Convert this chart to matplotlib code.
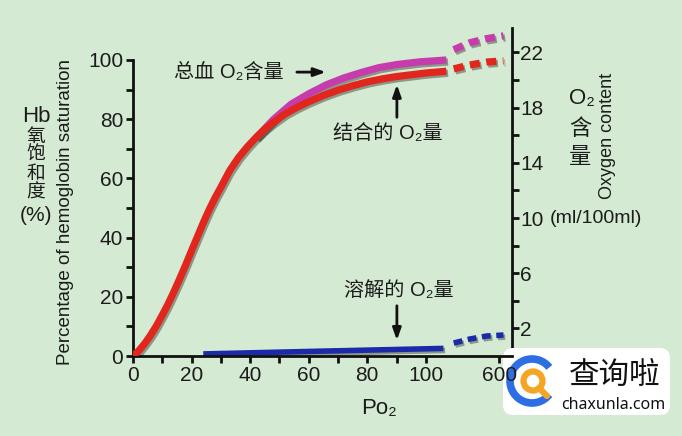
import matplotlib.pyplot as plt
import matplotlib.patheffects as pe
from matplotlib.patches import FancyBboxPatch, Arc, Circle

plt.rcParams['font.family'] = ['Liberation Sans', 'Noto Sans CJK SC', 'DejaVu Sans']

# x positions along the drawn axis (Po2, mmHg up to ~107, then compressed up to 600)
po2_bound = [0, 2, 4, 6, 8, 10, 12, 14, 16, 18, 20, 22, 24, 26, 28, 30, 33, 36, 39, 42, 45,
             48, 52, 56, 60, 65, 70, 75, 80, 85, 90, 95, 100, 107]
sat_bound = [0, 1.8, 4.2, 7, 10.2, 13.8, 17.6, 21.8, 26.2, 30.8, 35.6, 40.3, 45, 49.4, 53.4,
             57, 62.6, 67, 70.6, 73.8, 76.6, 79, 81.8, 84, 85.9, 88, 89.8, 91.3, 92.6, 93.6,
             94.4, 95, 95.6, 96.2]
pos_dash = [109.5, 115, 120.8, 126.5]
sat_bound_dash = [97.0, 98.3, 99.3, 99.7]

po2_total = [42, 48, 54, 60, 66, 72, 78, 84, 90, 98, 107]
ml_total = [15.8, 17.15, 18.25, 19.0, 19.65, 20.15, 20.55, 20.9, 21.12, 21.32, 21.45]
ml_total_dash = [22.2, 22.7, 23.0, 23.2]

po2_dissolved = [24, 60, 106]
ml_dissolved = [0.15, 0.33, 0.55]
ml_dissolved_dash = [0.94, 1.23, 1.45, 1.52]

xticks = [0, 20, 40, 60, 80, 100, 125]
xticklabels = ['0', '20', '40', '60', '80', '100', '600']
left_ticks = [0, 20, 40, 60, 80, 100]
right_ticks = [2, 6, 10, 14, 18, 22]

bg = '#d5ead2'
txt = '#1c1c1c'
red = '#e1261e'
magenta = '#c63cac'
blue = '#1a2aa8'

fig = plt.figure(figsize=(6.82, 4.36), dpi=100, facecolor=bg)
ax = fig.add_axes([133/682, 80/436, 379/682, 328/436])
ax.set_facecolor('none')
ax2 = ax.twinx()
ax2.set_facecolor('none')

ax.set_xlim(0, 129.4)
ax.set_ylim(0, 110.8)
ax2.set_ylim(0, 23.77)

shadow = [pe.SimpleLineShadow(offset=(1.2, -1.5), shadow_color='k', alpha=0.35), pe.Normal()]

ax2.plot(po2_total, ml_total, color=magenta, lw=5.2, solid_capstyle='butt', path_effects=shadow, zorder=2)
ax2.plot(pos_dash, ml_total_dash, color=magenta, lw=5.2, ls=(0, (1.4, 0.9)), dash_capstyle='butt',
         path_effects=shadow, zorder=2)
ax2.plot(po2_dissolved, ml_dissolved, color=blue, lw=4, solid_capstyle='butt', path_effects=shadow, zorder=3)
ax2.plot(pos_dash, ml_dissolved_dash, color=blue, lw=4, ls=(0, (1.6, 1.0)), dash_capstyle='butt',
         path_effects=shadow, zorder=3)
ax.plot(po2_bound, sat_bound, color=red, lw=5.2, solid_capstyle='butt', path_effects=shadow, zorder=3)
ax.plot(pos_dash, sat_bound_dash, color=red, lw=5.2, ls=(0, (1.4, 0.9)), dash_capstyle='butt',
        path_effects=shadow, zorder=3)
ax.set_zorder(ax2.get_zorder() + 1)

for a in (ax, ax2):
    for s in a.spines.values():
        s.set_linewidth(2)
        s.set_color('#111')
ax.spines['top'].set_visible(False)
ax.spines['right'].set_visible(False)
ax.spines['left'].set_bounds(0, 100)
ax2.spines['top'].set_visible(False)
ax2.spines['left'].set_visible(False)
ax2.spines['bottom'].set_visible(False)

ax.set_xticks(xticks)
ax.set_xticklabels(xticklabels)
ax.set_xticks([10, 30, 50, 70, 90], minor=True)
ax.set_yticks(left_ticks)
ax.set_yticks([10, 30, 50, 70, 90], minor=True)
ax2.set_yticks(right_ticks)
ax2.set_yticks([4, 8, 12, 16, 20], minor=True)
ax.tick_params(which='both', direction='out', length=5, width=2, color='#111',
               labelsize=15, labelcolor=txt, pad=2)
ax2.tick_params(which='both', direction='out', length=5, width=2, color='#111',
                labelsize=15, labelcolor=txt, pad=1)

# annotations
arrow = dict(arrowstyle='-|>,head_length=0.7,head_width=0.25', lw=2, color='#111')
ax.text(32.6, 95.9, '总血 O₂含量', fontsize=14.5, color=txt, ha='center', va='center')
ax.annotate('', xy=(66.8, 95.9), xytext=(55, 95.9), arrowprops=arrow)
ax.text(86.9, 75.3, '结合的 O₂量', fontsize=14.5, color=txt, ha='center', va='center')
ax.annotate('', xy=(90.1, 92.6), xytext=(90.1, 79.7), arrowprops=arrow)
ax.text(90.8, 22.3, '溶解的 O₂量', fontsize=14.5, color=txt, ha='center', va='center')
ax.annotate('', xy=(90.1, 4.4), xytext=(90.1, 17.9), arrowprops=arrow)


def ftext(px, py, s, **kw):
    fig.text(px/100, (436-py)/100, s, transform=fig.dpi_scale_trans, color=txt,
             ha='center', va='center', **kw)


ftext(36, 116, 'Hb', fontsize=16)
for i, ch in enumerate(['氧', '饱', '和', '度']):
    ftext(36, 137 + i*18.5, ch, fontsize=13.5)
ftext(36, 215, '(%)', fontsize=15)
ftext(66, 212, 'Percentage of hemoglobin saturation', fontsize=13.5, rotation=90)

ftext(582, 98, 'O₂', fontsize=16)
ftext(580, 129, '含', fontsize=16)
ftext(580, 157, '量', fontsize=16)
ftext(607, 136, 'Oxygen content', fontsize=13, rotation=90)
ftext(596, 218, '(ml/100ml)', fontsize=14)
ftext(379, 408, 'Po₂', fontsize=16)

# watermark
wm = fig.add_axes([502/682, 19/436, 170/682, 71/436])
wm.set_xlim(0, 170)
wm.set_ylim(0, 71)
wm.axis('off')
wm.add_patch(FancyBboxPatch((1, 2), 167, 67, boxstyle='round,pad=0,rounding_size=10',
                            fc='white', ec='none'))
wm.add_patch(Arc((30, 36), 44, 44, theta1=38, theta2=322, lw=5.5, color='#2d6fe3'))
wm.add_patch(Circle((31, 36), 9.5, fc='none', ec='#f5a524', lw=4.5))
wm.plot([37, 45], [29, 21], color='#f5a524', lw=4.5, solid_capstyle='round')
wm.text(113, 42, '查询啦', fontsize=22, family='Noto Sans CJK SC', ha='center', va='center', color='#111')
wm.text(111, 12, 'chaxunla.com', fontsize=11.5, family='Noto Sans', ha='center', va='center', color='#111')

fig.savefig('out.png', dpi=100, facecolor=fig.get_facecolor())
